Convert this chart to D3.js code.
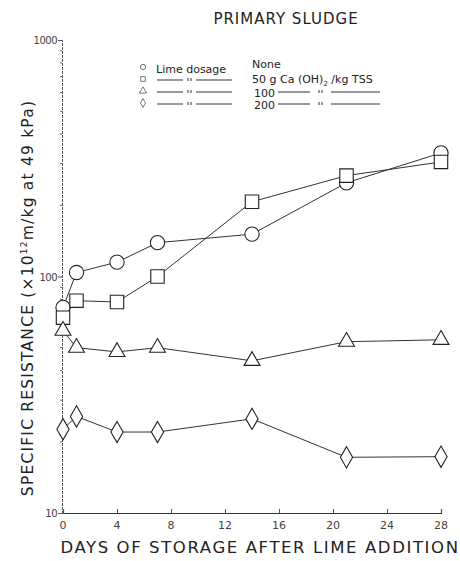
<!DOCTYPE html>
<html>
<head>
<meta charset="utf-8">
<script src="https://cdn.jsdelivr.net/npm/d3@7"></script>
<style>
  body { margin: 0; background: #fff; }
  text { font-family: "DejaVu Sans", sans-serif; fill: #222; }
</style>
</head>
<body>
<div id="chart"></div>
<script>
// data
const days       = [0, 1, 4, 7, 14, 21, 28]
const none       = [74, 104, 115, 139, 151, 249, 333]
const dose50     = [67, 79, 78, 100, 207, 267, 305]
const dose100    = [59, 50, 48, 50, 44, 53, 54]
const dose200    = [22.6, 25.6, 22, 22, 25, 17.2, 17.3]
const xTicks     = [0, 4, 8, 12, 16, 20, 24, 28]
const yTicks     = [10, 100, 1000]

const W = 460, H = 561

const svg = d3.select("#chart").append("svg")
    .attr("width", W).attr("height", H)

const x = d3.scaleLinear().domain([0, 28]).range([63, 441])
const y = d3.scaleLog().domain([10, 1000]).range([513, 40])

// axes
const xAxis = svg.append("g")
    .attr("transform", `translate(0, ${y(10)})`)
    .call(d3.axisTop(x).tickValues(xTicks).tickSize(4).tickFormat(""))
xAxis.select(".domain").attr("stroke", "#333").attr("stroke-width", 1.2)
xAxis.selectAll(".tick line").attr("stroke", "#555")

svg.append("g").selectAll("text")
    .data(xTicks)
    .join("text")
        .attr("x", d => x(d))
        .attr("y", y(10) + 16)
        .attr("text-anchor", "middle")
        .style("font-size", "11px")
        .style("fill", "#444")
        .text(d => d)

const minor = []
for (let e = 10; e < 1000; e *= 10)
    for (let k = 2; k <= 9; k++) minor.push(e * k)

const yAxis = svg.append("g")
    .attr("transform", `translate(${x(0) - 1}, 0)`)
    .call(d3.axisLeft(y).tickValues(yTicks).tickSize(4).tickFormat(""))
yAxis.select(".domain").attr("stroke", "#555").attr("stroke-dasharray", "3,1")
yAxis.selectAll(".tick line").attr("stroke", "#555")

svg.append("g")
    .attr("transform", `translate(${x(0) - 1}, 0)`)
    .selectAll("line")
    .data(minor)
    .join("line")
        .attr("x1", -2).attr("x2", 0)
        .attr("y1", d => y(d)).attr("y2", d => y(d))
        .attr("stroke", "#666")

svg.append("g").selectAll("text")
    .data(yTicks)
    .join("text")
        .attr("x", x(0) - 6)
        .attr("y", d => y(d) + 4)
        .attr("text-anchor", "end")
        .style("font-size", "10px")
        .style("fill", "#444")
        .style("letter-spacing", "-0.5px")
        .text(d => d)

// title & labels
svg.append("text")
    .attr("x", 286).attr("y", 24)
    .attr("text-anchor", "middle")
    .style("font-size", "15px")
    .style("letter-spacing", "1px")
    .text("PRIMARY SLUDGE")

svg.append("text")
    .attr("x", 260).attr("y", 553)
    .attr("text-anchor", "middle")
    .style("font-size", "16.5px")
    .style("letter-spacing", "1.6px")
    .text("DAYS OF STORAGE AFTER LIME ADDITION")

const yl = svg.append("text")
    .attr("transform", "translate(33, 298) rotate(-90)")
    .attr("text-anchor", "middle")
    .style("font-size", "15.5px")
    .style("letter-spacing", "1.2px")
yl.append("tspan").text("SPECIFIC RESISTANCE (×10")
yl.append("tspan").attr("dy", -6).style("font-size", "9px").text("12")
yl.append("tspan").attr("dy", 6).text("m/kg at 49 kPa)")

// series
const series = [
    {key: "none", values: none,    shape: "circle"},
    {key: "50",   values: dose50,  shape: "square"},
    {key: "100",  values: dose100, shape: "triangle"},
    {key: "200",  values: dose200, shape: "diamond"}
]
const symbols = {
    circle:   d3.symbolCircle,
    square:   d3.symbolSquare,
    triangle: d3.symbolTriangle,
    diamond:  d3.symbolDiamond
}
const sizes = {circle: 160, square: 180, triangle: 110, diamond: 130}

const line = d3.line()
    .x((d, i) => x(days[i]))
    .y(d => y(d))

series.forEach(s => {
    svg.append("path")
        .datum(s.values)
        .attr("fill", "none")
        .attr("stroke", "#333")
        .attr("stroke-width", 1)
        .attr("d", line)

    svg.append("g").selectAll("path")
        .data(s.values)
        .join("path")
            .attr("transform", (d, i) => `translate(${x(days[i])}, ${y(d)})`)
            .attr("d", d3.symbol(symbols[s.shape], sizes[s.shape]))
            .attr("fill", "#fff")
            .attr("stroke", "#222")
            .attr("stroke-width", 1.1)
})

// legend
const lg = svg.append("g").style("font-size", "11px")
const rows = [70, 82, 94, 106]
series.forEach((s, i) => {
    lg.append("path")
        .attr("transform", `translate(143, ${rows[i] - 3})`)
        .attr("d", d3.symbol(symbols[s.shape], 22))
        .attr("fill", "#fff")
        .attr("stroke", "#555")
        .attr("stroke-width", 0.8)
})
lg.append("text").attr("x", 156).attr("y", 73).text("Lime dosage")
lg.append("text").attr("x", 252).attr("y", 68).text("None")
const t50 = lg.append("text").attr("x", 252).attr("y", 83)
t50.append("tspan").text("50 g Ca (OH)")
t50.append("tspan").attr("dy", 3).style("font-size", "7px").text("2")
t50.append("tspan").attr("dy", -3).text(" /kg TSS")
lg.append("text").attr("x", 254).attr("y", 97).text("100")
lg.append("text").attr("x", 254).attr("y", 109).text("200")

const seg = (x1, x2, y1, y2) => lg.append("line")
    .attr("x1", x1).attr("x2", x2).attr("y1", y1).attr("y2", y2)
    .attr("stroke", "#333").attr("stroke-width", 1)
// ditto marks drawn as two tiny strokes
const ditto = (xx, yy) => {
    seg(xx, xx, yy - 2, yy + 1)
    seg(xx + 3, xx + 3, yy - 2, yy + 1)
}

;[82, 94, 106].forEach(r => {
    seg(157, 183, r - 2, r - 2); ditto(188, r - 2); seg(196, 232, r - 2, r - 2)
})
;[94, 106].forEach(r => {
    seg(278, 310, r - 2, r - 2); ditto(319, r - 2); seg(331, 380, r - 2, r - 2)
})
</script>
</body>
</html>
